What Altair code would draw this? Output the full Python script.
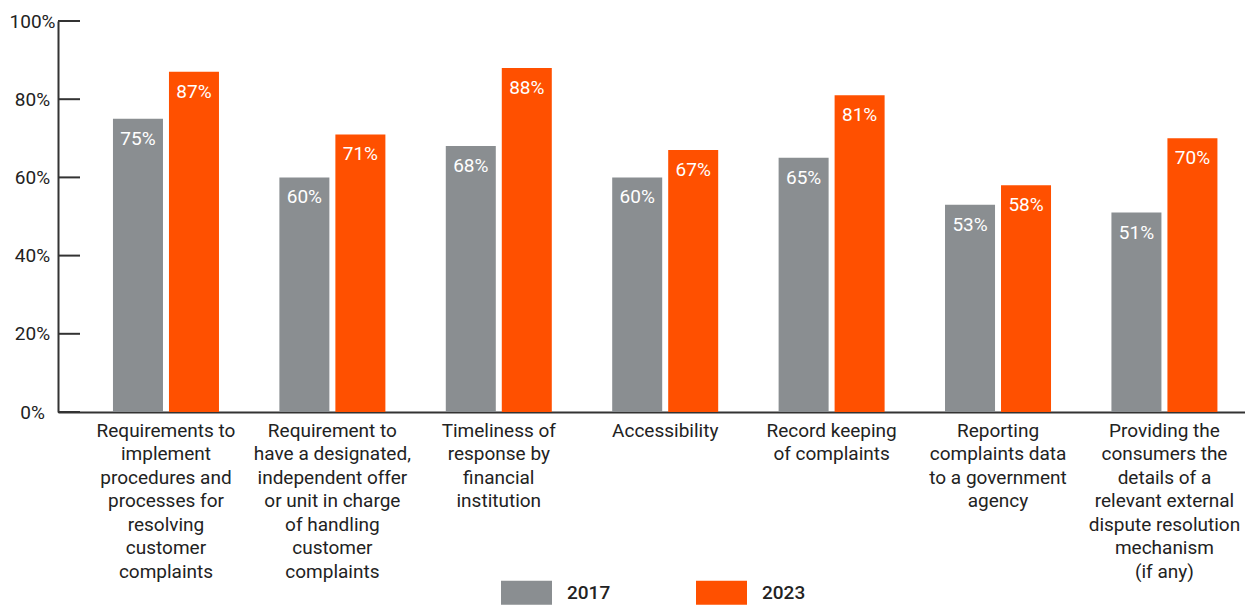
import altair as alt
import pandas as pd

categories = [
    "Requirements to|implement|procedures and|processes for|resolving|customer|complaints",
    "Requirement to|have a designated,|independent offer|or unit in charge|of handling|customer|complaints",
    "Timeliness of|response by|financial|institution",
    "Accessibility",
    "Record keeping|of complaints",
    "Reporting|complaints data|to a government|agency",
    "Providing the|consumers the|details of a|relevant external|dispute resolution|mechanism|(if any)",
]
years = ["2017", "2023"]
values_2017 = [75, 60, 68, 60, 65, 53, 51]
values_2023 = [87, 71, 88, 67, 81, 58, 70]
y_ticks = [0, 20, 40, 60, 80, 100]
colors = ["#8A8E91", "#FF5000"]

rows = []
for c, a, b in zip(categories, values_2017, values_2023):
    rows.append({"category": c, "year": years[0], "value": a})
    rows.append({"category": c, "year": years[1], "value": b})
df = pd.DataFrame(rows)
ticks_df = pd.DataFrame({"tick": y_ticks})

FONT = "Roboto"
W, H = 1187, 391

x_enc = alt.X(
    "category:N",
    sort=categories,
    scale=alt.Scale(paddingInner=0.363, paddingOuter=0.248, align=0.666),
    axis=alt.Axis(
        title=None,
        labelAngle=0,
        labelExpr="split(datum.label, '|')",
        ticks=False,
        tickSize=0,
        domainColor="#333333",
        domainWidth=2,
        labelFont=FONT,
        labelFontSize=19,
        labelColor="#222222",
        labelLineHeight=23.5,
        labelPadding=9,
        labelLimit=0,
        labelBaseline="top",
    ),
)
xoff = alt.XOffset("year:N", sort=years, scale=alt.Scale(paddingInner=0.107, paddingOuter=0))
y_scale = alt.Scale(domain=[0, 100], nice=False)
y_axis = alt.Axis(
    title=None,
    values=y_ticks,
    labelExpr="datum.value + '%'",
    ticks=False,
    tickSize=0,
    grid=False,
    domainColor="#333333",
    domainWidth=2,
    labelFont=FONT,
    labelFontSize=19,
    labelColor="#222222",
    labelAlign="center",
    labelPadding=26,
)
y_enc = alt.Y("value:Q", scale=y_scale, axis=y_axis)

base = alt.Chart(df)

bars = base.mark_bar().encode(
    x=x_enc,
    xOffset=xoff,
    y=y_enc,
    color=alt.Color(
        "year:N",
        scale=alt.Scale(domain=years, range=colors),
        legend=alt.Legend(
            title=None,
            orient="none",
            legendX=443,
            legendY=546,
            direction="horizontal",
            symbolType="M-1,-0.47L1,-0.47L1,0.47L-1,0.47Z",
            symbolSize=2601,
            symbolStrokeWidth=0,
            symbolOpacity=1,
            labelFont=FONT,
            labelFontSize=19,
            labelFontWeight=500,
            labelColor="#222222",
            labelOffset=15,
            columnPadding=85,
            padding=0,
        ),
    ),
)

labels = base.mark_text(
    baseline="alphabetic", dy=26, color="white", fontSize=19, font=FONT
).encode(
    x=x_enc,
    xOffset=xoff,
    y=y_enc,
    text=alt.Text("label:N"),
).transform_calculate(label="datum.value + '%'")

ticks = alt.Chart(ticks_df).mark_rule(color="#333333", strokeWidth=2).encode(
    y=alt.Y("tick:Q", scale=y_scale, axis=y_axis),
    x=alt.value(0),
    x2=alt.value(22),
)

chart = (
    alt.layer(bars, labels, ticks)
    .properties(
        width=W,
        height=H,
        autosize="none",
        padding={"left": 50, "top": 13, "right": 0, "bottom": 193},
    )
    .configure_view(stroke=None)
)

chart.save("out.html", embed_options={"renderer": "svg", "actions": False})
